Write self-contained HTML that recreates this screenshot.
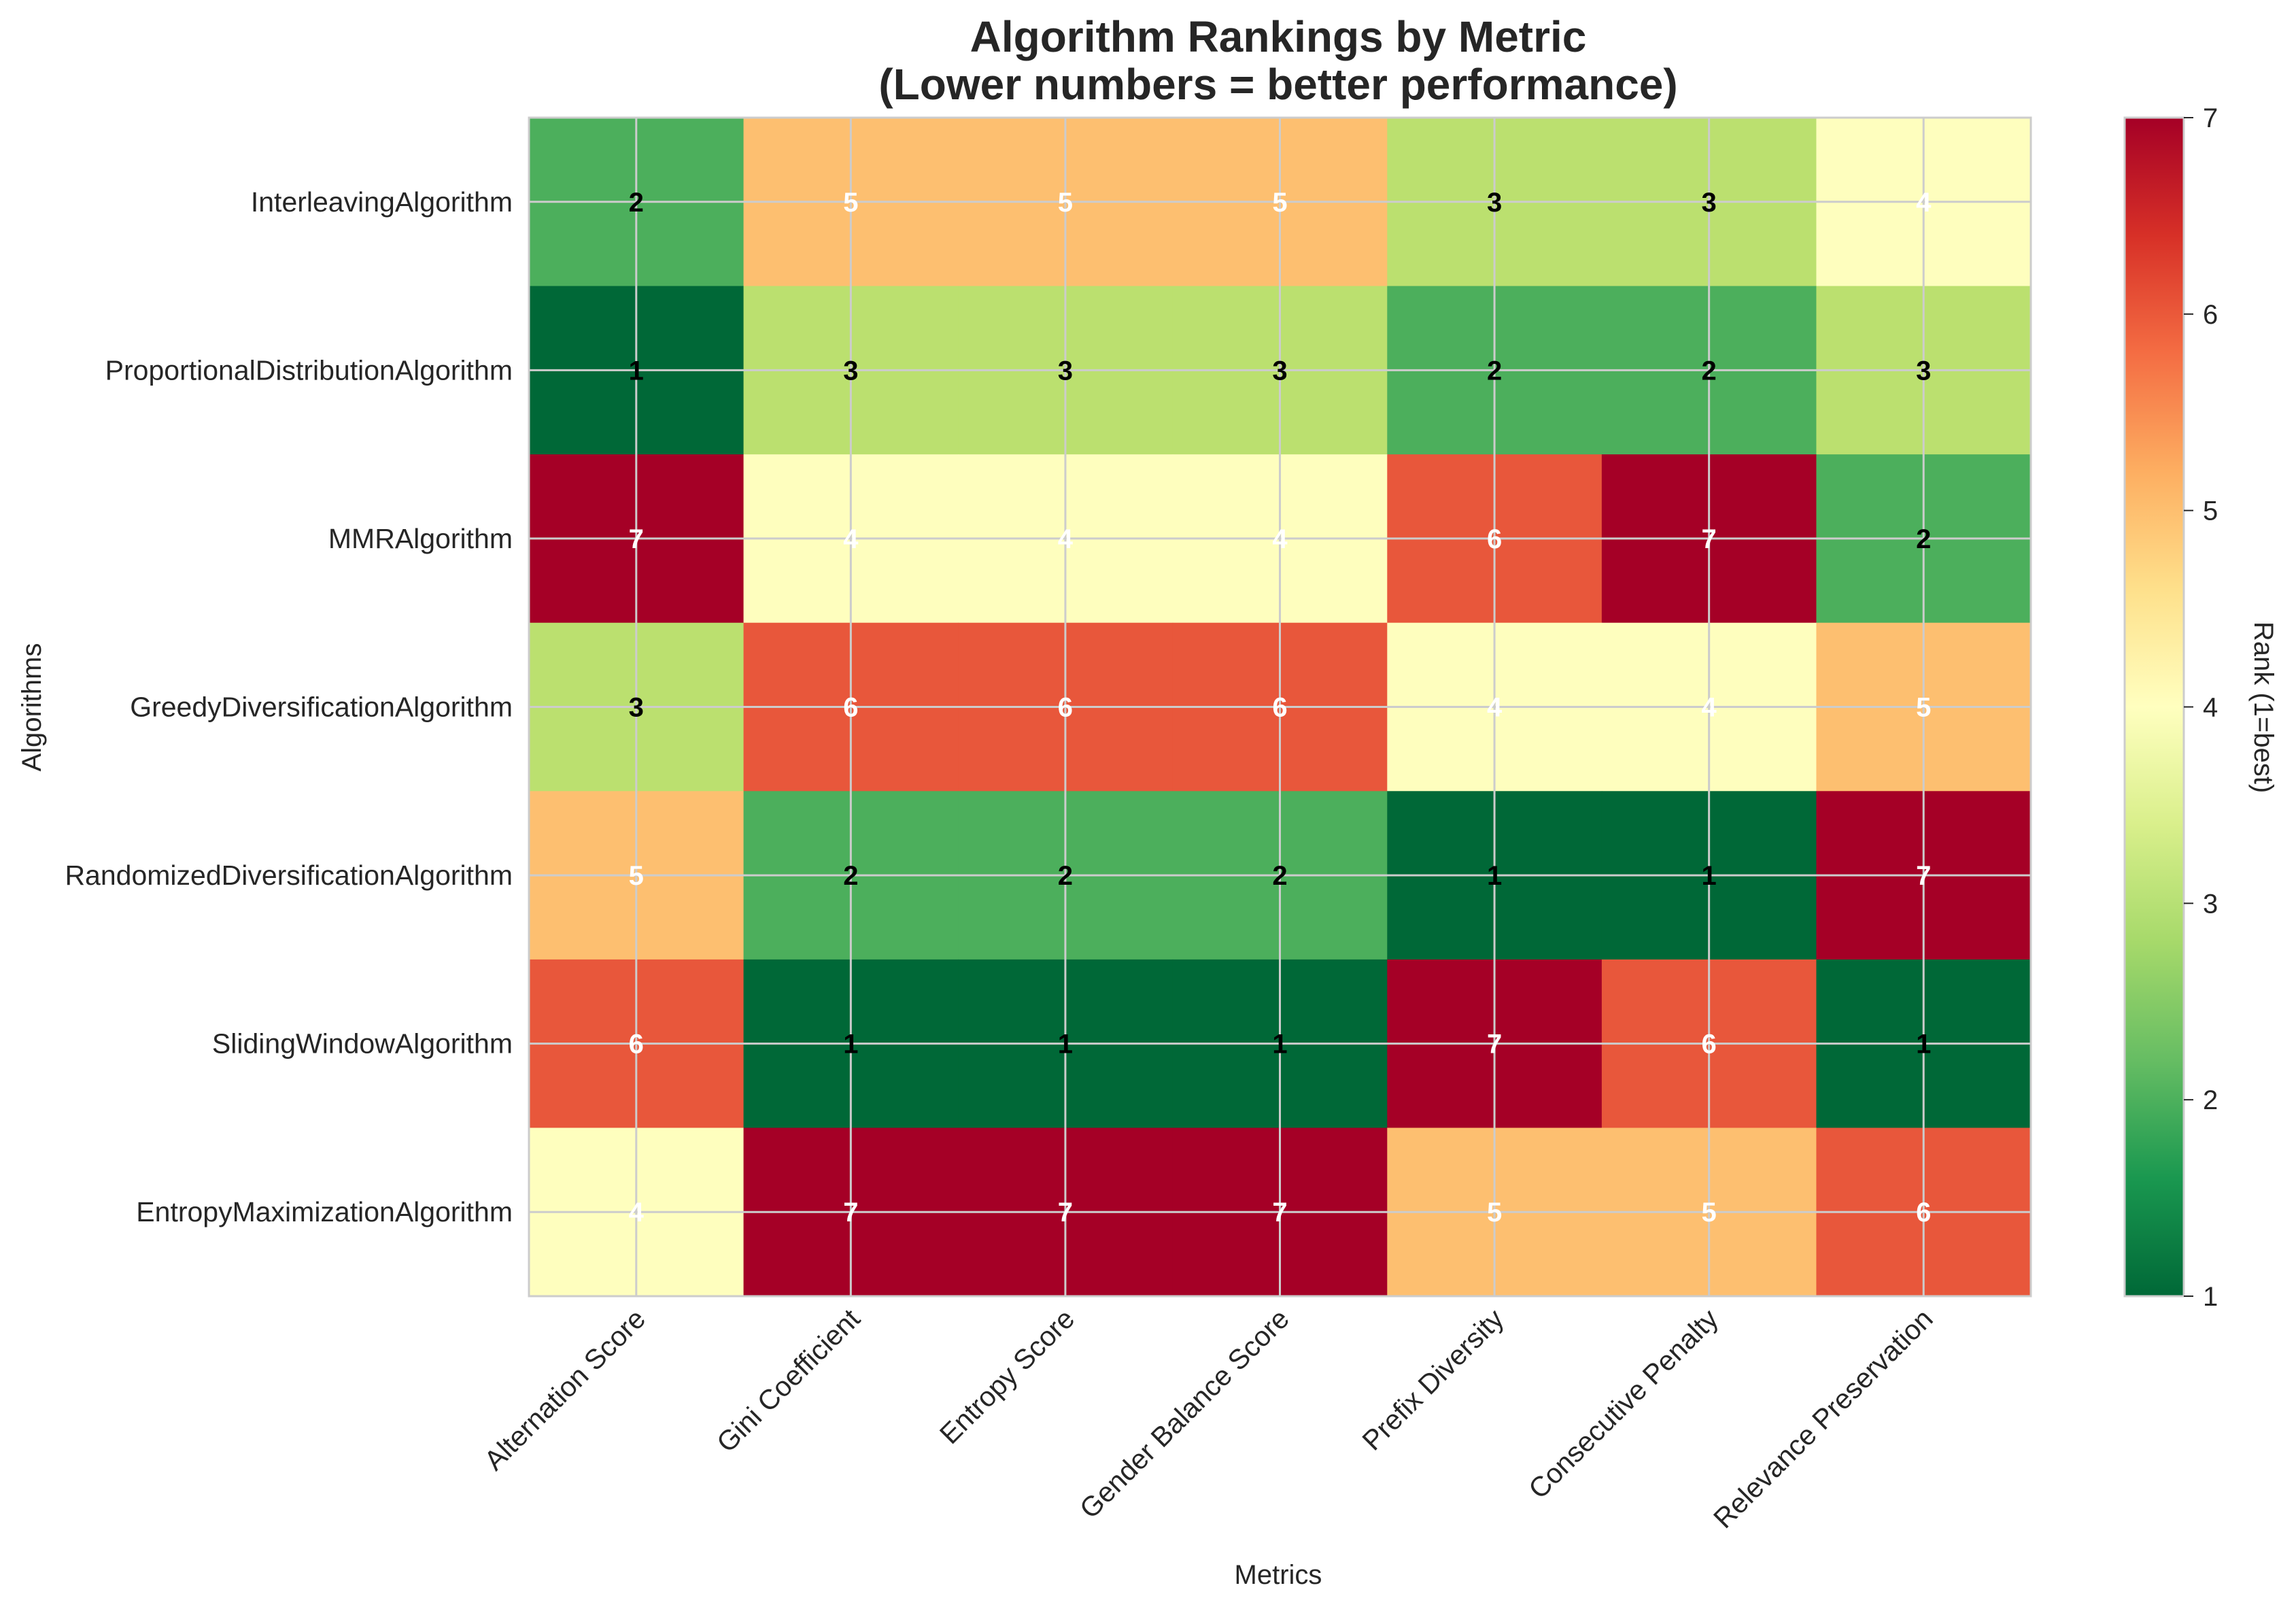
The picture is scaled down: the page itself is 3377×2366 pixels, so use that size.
<!DOCTYPE html>
<html><head><meta charset="utf-8"><style>
html,body{margin:0;padding:0;background:#fff;}
svg{display:block;font-family:"Liberation Sans",Arial,sans-serif;}
</style></head><body>
<svg id="chart" width="3377" height="2366" viewBox="0 0 3377 2366" xmlns="http://www.w3.org/2000/svg">
<defs>
<linearGradient id="cbgrad" x1="0" y1="1" x2="0" y2="0">
<stop offset="0" stop-color="#006837"/><stop offset="0.1" stop-color="#1a9850"/><stop offset="0.2" stop-color="#66bd63"/><stop offset="0.3" stop-color="#a6d96a"/><stop offset="0.4" stop-color="#d9ef8b"/><stop offset="0.5" stop-color="#ffffbf"/><stop offset="0.6" stop-color="#fee08b"/><stop offset="0.7" stop-color="#fdae61"/><stop offset="0.8" stop-color="#f46d43"/><stop offset="0.9" stop-color="#d73027"/><stop offset="1" stop-color="#a50026"/>
</linearGradient>
</defs>
<text x="1880" y="76" text-anchor="middle" font-size="64" font-weight="bold" fill="#262626">Algorithm Rankings by Metric</text>
<text x="1880" y="146" text-anchor="middle" font-size="64" font-weight="bold" fill="#262626">(Lower numbers = better performance)</text>
<g id="cells"></g>
<g id="grid"></g>
<g id="labels"></g>
<rect x="778" y="173" width="2209" height="1733" fill="none" stroke="#cccccc" stroke-width="3"/>
<rect x="3125" y="173" width="87" height="1733" fill="url(#cbgrad)" stroke="#cccccc" stroke-width="3"/>
<g id="cbticks"></g>
<text transform="translate(3316,1040) rotate(90)" text-anchor="middle" font-size="40" fill="#262626">Rank (1=best)</text>
<text x="1880" y="2329" text-anchor="middle" font-size="40" fill="#262626">Metrics</text>
<text transform="translate(60,1040) rotate(-90)" text-anchor="middle" font-size="40" fill="#262626">Algorithms</text>
</svg>
<script>
const algorithms = ["InterleavingAlgorithm","ProportionalDistributionAlgorithm","MMRAlgorithm","GreedyDiversificationAlgorithm","RandomizedDiversificationAlgorithm","SlidingWindowAlgorithm","EntropyMaximizationAlgorithm"];
const metrics = ["Alternation Score","Gini Coefficient","Entropy Score","Gender Balance Score","Prefix Diversity","Consecutive Penalty","Relevance Preservation"];
const ranks = [
 [2,5,5,5,3,3,4],
 [1,3,3,3,2,2,3],
 [7,4,4,4,6,7,2],
 [3,6,6,6,4,4,5],
 [5,2,2,2,1,1,7],
 [6,1,1,1,7,6,1],
 [4,7,7,7,5,5,6]
];
const cbTicks = [1,2,3,4,5,6,7];
const NS="http://www.w3.org/2000/svg";
const L=778,R=2987,T=173,B=1906;
const cw=(R-L)/metrics.length, ch=(B-T)/algorithms.length;
const xc=j=>L+cw*(j+0.5), yc=i=>T+ch*(i+0.5);
const vmin=1,vmax=7;
const cbY=v=>B-(v-vmin)/(vmax-vmin)*(B-T);
const palette={1:"#006837",2:"#4caf5c",3:"#bbe06f",4:"#fefebe",5:"#fdbf70",6:"#e8573b",7:"#a50026"};
function mk(tag,attrs,parent){const e=document.createElementNS(NS,tag);for(const k in attrs)e.setAttribute(k,attrs[k]);parent.appendChild(e);return e;}
const cells=document.getElementById('cells'),grid=document.getElementById('grid'),labels=document.getElementById('labels'),cbt=document.getElementById('cbticks');
ranks.forEach((row,i)=>row.forEach((v,j)=>{
 const r=mk('rect',{x:L+cw*j,y:T+ch*i,width:cw+0.5,height:ch+0.5,fill:palette[Math.round(v)]||"#ccc"},cells);
 
 
}));
metrics.forEach((m,j)=>{
 const l=mk('line',{x1:xc(j),x2:xc(j),y1:T,y2:B,stroke:"#cccccc","stroke-width":3},grid);
 
 
 const t=mk('text',{transform:`translate(${xc(j)+16},${B+36}) rotate(-45)`,"text-anchor":"end","font-size":41,fill:"#262626"},labels);
 t.textContent=m;
 
 
});
algorithms.forEach((a,i)=>{
 const l=mk('line',{x1:L,x2:R,y1:yc(i),y2:yc(i),stroke:"#cccccc","stroke-width":3},grid);
 
 
 const t=mk('text',{x:L-24,y:yc(i)+14,"text-anchor":"end","font-size":41,fill:"#262626"},labels);
 t.textContent=a;
 
 
});
ranks.forEach((row,i)=>row.forEach((v,j)=>{
 const t=mk('text',{x:xc(j),y:yc(i)+14,"text-anchor":"middle","font-size":40,"font-weight":"bold",fill:v<=3?"#000":"#fff"},labels);
 t.textContent=v;
 
 
}));
cbTicks.forEach(v=>{
 const l=mk('line',{x1:3212,x2:3226,y1:cbY(v),y2:cbY(v),stroke:"#262626","stroke-width":2},cbt);
 
 
 const t=mk('text',{x:3240,y:cbY(v)+14,"font-size":40,fill:"#262626"},cbt);
 t.textContent=v;
 
 
});
</script>
</body></html>
